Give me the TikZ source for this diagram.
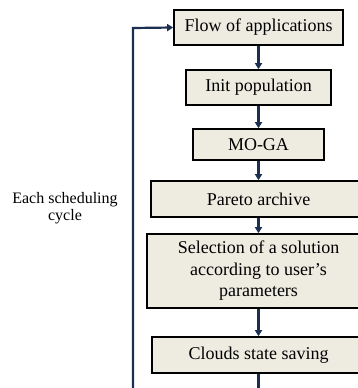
\documentclass[tikz,border=0pt]{standalone}
\usepackage{fontspec}
\setmainfont{Liberation Serif}
\usetikzlibrary{arrows.meta}
\definecolor{boxfill}{HTML}{EEECE1}
\definecolor{linecol}{HTML}{1B3050}
\begin{document}
\begin{tikzpicture}[x=1pt,y=-1pt,
  stepbox/.style={draw=black, line width=1.6pt, fill=boxfill, inner sep=0pt,
    align=center, font=\fontsize{18}{21.5}\selectfont},
  conn/.style={draw=linecol, line width=2.2pt, -{Triangle[length=6pt,width=7pt]}},
  plain/.style={draw=linecol, line width=2.2pt}]
\useasboundingbox (0,0) rectangle (358,388);
\node[stepbox, minimum width=169pt, minimum height=35pt] (flow) at (258.5,27.5) {Flow of applications};
\node[stepbox, minimum width=145pt, minimum height=35pt] (init) at (258.5,87.5) {Init population};
\node[stepbox, minimum width=131pt, minimum height=31pt] (moga) at (258.5,144.5) {MO-GA};
\node[stepbox, minimum width=215pt, minimum height=36pt] (pareto) at (258.5,199) {Pareto archive};
\node[stepbox, minimum width=223pt, minimum height=74pt] (sel) at (258.5,271) {Selection of a solution\\according to user's\\parameters};
\node[stepbox, minimum width=213pt, minimum height=36pt] (clouds) at (258.5,355) {Clouds state saving};
\node[align=center, font=\fontsize{16}{17}\selectfont] (cycle) at (65,208) {Each scheduling\\cycle};
\coordinate (bot) at (258.5,390);
\coordinate (loopb) at (133,390);
\coordinate (loopt) at (133,28);
\draw[conn] (flow) -- (init);
\draw[conn] (init) -- (moga);
\draw[conn] (moga) -- (pareto);
\draw[conn] (pareto) -- (sel);
\draw[conn] (sel) -- (clouds);
\draw[plain] (clouds) -- (bot);
\draw[conn] (loopb) -- (loopt) -- (flow.west);
\end{tikzpicture}
\end{document}
